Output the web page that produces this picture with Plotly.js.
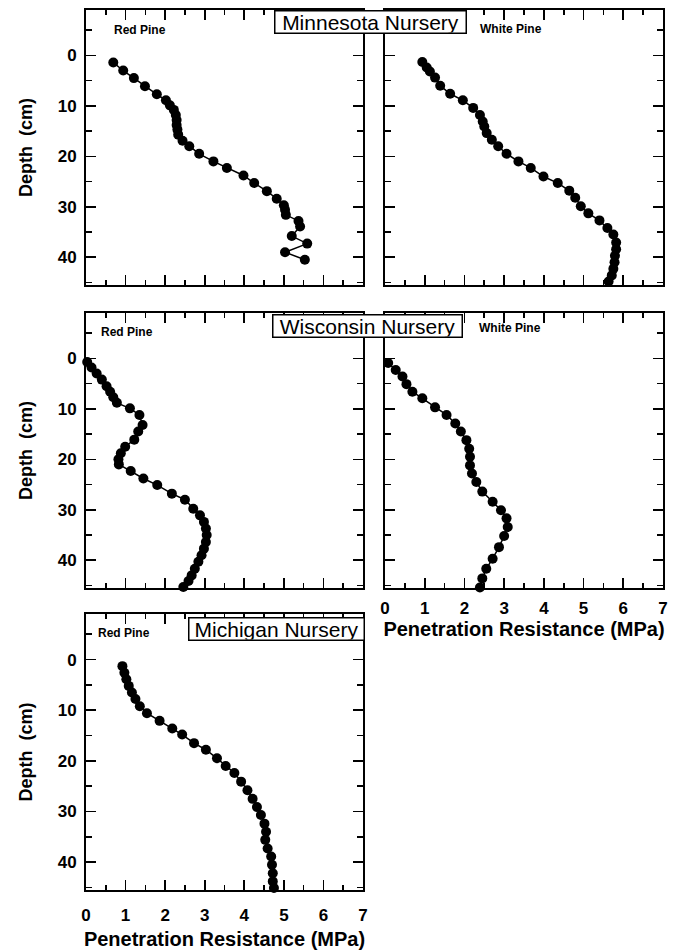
<!DOCTYPE html>
<html>
<head>
<meta charset="utf-8">
<script src="https://cdn.plot.ly/plotly-3.0.1.min.js"></script>
<style>
  html, body { margin: 0; padding: 0; background: #fff; }
  #chart { width: 686px; height: 950px; }
</style>
</head>
<body>
<div id="chart"></div>
<script>
// Soil penetration resistance profiles by nursery and species
const mnRedDepth = [1.4, 3.0, 4.5, 6.1, 7.7, 8.9, 9.9, 10.8, 11.8, 12.8, 13.8, 14.7, 15.7, 16.9, 18.0, 19.5, 21.0, 22.3, 23.8, 25.3, 26.9, 28.4, 29.7, 30.6, 31.6, 32.8, 33.9, 35.8, 37.3, 39.0, 40.5];
const mnRedMPa   = [0.69, 0.94, 1.21, 1.49, 1.79, 2.02, 2.12, 2.22, 2.27, 2.29, 2.29, 2.31, 2.33, 2.44, 2.61, 2.86, 3.22, 3.56, 3.98, 4.25, 4.57, 4.82, 5.00, 5.03, 5.05, 5.37, 5.41, 5.20, 5.59, 5.03, 5.53];

const mnWhiteDepth = [1.3, 2.4, 3.2, 4.4, 6.0, 7.6, 8.9, 10.4, 11.8, 13.1, 14.1, 15.4, 16.7, 18.0, 19.5, 21.0, 22.3, 24.0, 25.3, 26.8, 28.2, 29.9, 31.3, 32.7, 34.2, 35.5, 37.1, 38.4, 39.7, 41.0, 42.3, 43.6, 44.8];
const mnWhiteMPa   = [0.94, 1.05, 1.13, 1.26, 1.39, 1.64, 1.96, 2.22, 2.39, 2.46, 2.50, 2.56, 2.69, 2.85, 3.06, 3.36, 3.67, 3.99, 4.35, 4.64, 4.79, 4.93, 5.12, 5.40, 5.60, 5.75, 5.82, 5.82, 5.79, 5.78, 5.75, 5.71, 5.63];

const wiRedDepth = [0.7, 1.8, 3.0, 4.2, 5.5, 6.6, 7.7, 8.8, 9.9, 11.2, 13.2, 14.5, 16.1, 17.5, 18.8, 20.0, 21.0, 22.3, 23.8, 25.1, 26.8, 28.0, 29.8, 31.1, 32.4, 33.7, 35.0, 36.4, 37.7, 39.0, 40.3, 41.7, 43.0, 44.1, 45.3];
const wiRedMPa   = [0.03, 0.14, 0.27, 0.40, 0.52, 0.61, 0.69, 0.78, 1.11, 1.35, 1.43, 1.32, 1.22, 0.99, 0.88, 0.82, 0.83, 1.13, 1.45, 1.80, 2.17, 2.50, 2.71, 2.88, 2.98, 3.03, 3.05, 3.03, 2.98, 2.92, 2.84, 2.75, 2.67, 2.59, 2.46];

const wiWhiteDepth = [0.9, 2.3, 3.6, 5.1, 6.6, 7.9, 9.7, 11.2, 12.9, 14.5, 16.2, 17.9, 19.5, 21.2, 22.8, 24.5, 26.4, 28.4, 30.1, 31.7, 33.4, 35.2, 37.4, 39.7, 41.7, 43.6, 45.4];
const wiWhiteMPa   = [0.08, 0.27, 0.44, 0.54, 0.69, 0.94, 1.26, 1.55, 1.77, 1.91, 2.05, 2.12, 2.14, 2.14, 2.19, 2.30, 2.45, 2.71, 2.92, 3.06, 3.09, 3.00, 2.87, 2.71, 2.55, 2.45, 2.39];

const miRedDepth = [1.3, 2.6, 3.9, 5.2, 6.5, 7.8, 9.2, 10.6, 12.1, 13.6, 14.8, 16.5, 17.8, 19.5, 21.0, 22.4, 24.1, 25.8, 27.5, 29.1, 30.7, 32.4, 34.0, 35.6, 37.3, 38.9, 40.5, 42.2, 43.8, 45.1];
const miRedMPa   = [0.92, 0.97, 1.02, 1.08, 1.16, 1.25, 1.36, 1.54, 1.86, 2.18, 2.43, 2.73, 3.03, 3.31, 3.53, 3.75, 3.92, 4.08, 4.21, 4.32, 4.42, 4.51, 4.55, 4.53, 4.59, 4.68, 4.70, 4.72, 4.72, 4.75];

const nurseryNames = ["Minnesota Nursery", "Wisconsin Nursery", "Michigan Nursery"];
const speciesNames = ["Red Pine", "White Pine"];
const xTitle = "Penetration Resistance (MPa)";
const yTitle = "Depth\u00a0\u00a0(cm)";

const FONT = "Liberation Sans, Arial, sans-serif";
const X_RANGE = [0, 7];
const Y_RANGE = [45.5, -9];   // depth increases downward

function series(x, y, xa, ya) {
  return {
    x: x, y: y, xaxis: xa, yaxis: ya,
    type: "scatter", mode: "lines+markers", cliponaxis: false,
    line: { color: "#000", width: 1.5 },
    marker: { color: "#000", size: 10, symbol: "circle" },
    showlegend: false, hoverinfo: "x+y"
  };
}
// transparent copy that binds a profile to its overlaid label axis
function labelCarrier(x, y, xa, ya) {
  return {
    x: x, y: y, xaxis: xa, yaxis: ya,
    type: "scatter", mode: "markers", opacity: 0,
    marker: { size: 1, color: "#000" },
    showlegend: false, hoverinfo: "skip"
  };
}

const traces = [
  series(mnRedMPa, mnRedDepth, "x", "y"),
  series(mnWhiteMPa, mnWhiteDepth, "x2", "y2"),
  series(wiRedMPa, wiRedDepth, "x3", "y3"),
  series(wiWhiteMPa, wiWhiteDepth, "x4", "y4"),
  series(miRedMPa, miRedDepth, "x5", "y5"),
  labelCarrier(mnRedMPa, mnRedDepth, "x", "y6"),
  labelCarrier(wiRedMPa, wiRedDepth, "x3", "y7"),
  labelCarrier(miRedMPa, miRedDepth, "x5", "y8"),
  labelCarrier(wiWhiteMPa, wiWhiteDepth, "x6", "y4"),
  labelCarrier(miRedMPa, miRedDepth, "x7", "y5")
];

const W = 686, H = 950;
const colL = [86 / W, 363 / W];
const colR = [385 / W, 663 / W];
const rowDom = (top, bot) => [1 - bot / H, 1 - top / H];
const row1 = rowDom(10, 285), row2 = rowDom(313, 588), row3 = rowDom(614, 890);

const tickFont = { family: FONT, size: 17, color: "#000", weight: "bold" };
const titleFont = { family: FONT, size: 20, color: "#000", weight: "bold" };

// frame axes: box outline with inward major + minor ticks, no labels
function frameX(domain, anchor) {
  return {
    domain: domain, anchor: anchor, range: X_RANGE, dtick: 1, tick0: 0,
    ticks: "inside", ticklen: 10, tickwidth: 1.6, tickcolor: "#000",
    minor: { dtick: 0.5, ticks: "inside", ticklen: 5, tickcolor: "#000" },
    showline: true, linecolor: "#000", linewidth: 2, mirror: "ticks",
    showgrid: false, zeroline: false, fixedrange: true, showticklabels: false
  };
}
function frameY(domain, anchor) {
  return {
    domain: domain, anchor: anchor, range: Y_RANGE, dtick: 10, tick0: 0,
    ticks: "inside", ticklen: 10, tickwidth: 1.6, tickcolor: "#000",
    minor: { dtick: 5, ticks: "inside", ticklen: 6, tickcolor: "#000" },
    showline: true, linecolor: "#000", linewidth: 2, mirror: "ticks",
    showgrid: false, zeroline: false, fixedrange: true, showticklabels: false
  };
}
// label axes: overlaid on a frame axis, carry tick labels and the title
function labelX(over, anchor, gap, standoff) {
  return {
    overlaying: over, anchor: anchor, side: "bottom", range: X_RANGE, dtick: 1, tick0: 0,
    ticks: "outside", ticklen: gap, tickcolor: "rgba(0,0,0,0)",
    showline: false, showgrid: false, zeroline: false, fixedrange: true,
    tickfont: tickFont,
    title: { text: xTitle, standoff: standoff, font: titleFont }
  };
}
function labelY(over, anchor) {
  return {
    overlaying: over, anchor: anchor, side: "left", range: Y_RANGE, dtick: 10, tick0: 0,
    ticks: "outside", ticklen: 5, tickcolor: "rgba(0,0,0,0)",
    showline: false, showgrid: false, zeroline: false, fixedrange: true,
    tickfont: tickFont,
    title: { text: yTitle, standoff: 20, font: { family: FONT, size: 18, color: "#000", weight: "bold" } }
  };
}

function boxLabel(text, cx, cy, w) {
  return {
    text: text, xref: "paper", yref: "paper",
    x: cx / W, y: 1 - cy / H, xanchor: "center", yanchor: "middle",
    showarrow: false, width: w, height: 21,
    bordercolor: "#000", borderwidth: 1.5, borderpad: 0, bgcolor: "#fff",
    font: { family: FONT, size: 21, color: "#000" }
  };
}

function speciesLabel(text, lx, cy) {
  return {
    text: text, xref: "paper", yref: "paper",
    x: lx / W, y: 1 - cy / H, xanchor: "left", yanchor: "middle",
    showarrow: false,
    font: { family: FONT, size: 12, color: "#000", weight: "bold" }
  };
}

const layout = {
  width: W, height: H,
  margin: { l: 0, r: 0, t: 0, b: 0 },
  paper_bgcolor: "#fff", plot_bgcolor: "#fff",
  showlegend: false,
  xaxis:  frameX(colL, "y"),  yaxis:  frameY(row1, "x"),
  xaxis2: frameX(colR, "y2"), yaxis2: frameY(row1, "x2"),
  xaxis3: frameX(colL, "y3"), yaxis3: frameY(row2, "x3"),
  xaxis4: frameX(colR, "y4"), yaxis4: frameY(row2, "x4"),
  xaxis5: frameX(colL, "y5"), yaxis5: frameY(row3, "x5"),
  xaxis6: labelX("x4", "y4", 5, 2),
  xaxis7: labelX("x5", "y5", 10, 10),
  yaxis6: labelY("y", "x"),
  yaxis7: labelY("y3", "x3"),
  yaxis8: labelY("y5", "x5"),
  annotations: [
    boxLabel(nurseryNames[0], 370, 21.5, 190),
    boxLabel(nurseryNames[1], 367, 326, 188),
    boxLabel(nurseryNames[2], 276, 628.5, 174),
    speciesLabel(speciesNames[0], 112, 30),
    speciesLabel(speciesNames[1], 478, 29),
    speciesLabel(speciesNames[0], 99, 332),
    speciesLabel(speciesNames[1], 477, 328),
    speciesLabel(speciesNames[0], 96, 633)
  ]
};

Plotly.newPlot("chart", traces, layout, { staticPlot: true, displayModeBar: false });
</script>
</body>
</html>
